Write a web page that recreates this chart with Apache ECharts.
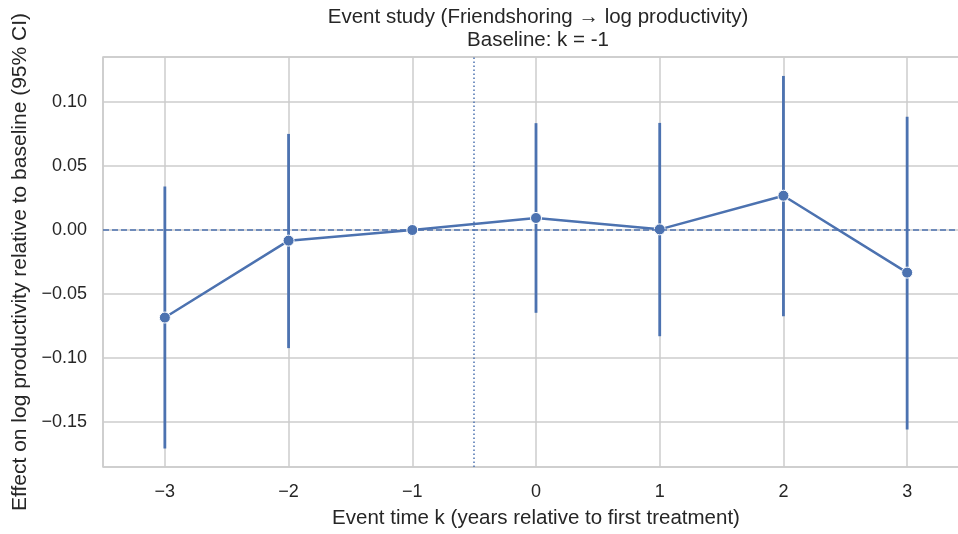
<!DOCTYPE html>
<html>
<head>
<meta charset="utf-8">
<script src="https://cdn.jsdelivr.net/npm/echarts@6/dist/echarts.min.js"></script>
<style>
  html, body { margin: 0; padding: 0; background: #fff; }
  #chart { width: 958px; height: 534px; }
</style>
</head>
<body>
<div id="chart"></div>
<script>
// event time k
var eventTimes = [-3, -2, -1, 0, 1, 2, 3];
// point estimates
var estimates = [-0.0684, -0.0083, 0.0, 0.0094, 0.0005, 0.0268, -0.0333];
// 95% CI bounds
var ciLow = [-0.1708, -0.0923, 0.0, -0.0647, -0.083, -0.0674, -0.1558];
var ciHigh = [0.034, 0.0751, 0.0, 0.0835, 0.0837, 0.1204, 0.0886];

var baselineLine = -0.5;
var blue = "#4c72b0";
var ink = "#262626";
var font = "'Liberation Sans', Arial, sans-serif";

var fmtMinus = function (v, digits) {
  var s = digits != null ? Math.abs(v).toFixed(digits) : String(Math.abs(v));
  return (v < 0 ? "\u2212" : "") + s;
};

var chart = echarts.init(document.getElementById("chart"), null, { renderer: "canvas" });

chart.setOption({
  animation: false,
  textStyle: { fontFamily: font, color: ink },
  graphic: [
    {
      type: "text",
      x: 538,
      y: 6,
      style: {
        text: "Event study (Friendshoring \u2192 log productivity)\nBaseline: k = -1",
        align: "center",
        verticalAlign: "top",
        font: "20.5px " + font,
        lineHeight: 23,
        fill: ink,
      },
    },
  ],
  grid: {
    left: 103,
    right: -11,
    top: 57,
    bottom: 67,
    outerBoundsMode: "none",
    show: true,
    borderColor: "#cccccc",
    borderWidth: 1.5,
  },
  xAxis: {
    type: "value",
    min: -3.5,
    max: 3.5,
    name: "Event time k (years relative to first treatment)",
    nameLocation: "middle",
    nameGap: 41,
    nameTextStyle: { fontSize: 20.5, color: ink, fontFamily: font },
    axisLine: { show: false },
    axisTick: { show: false },
    axisLabel: {
      fontSize: 18,
      color: ink,
      margin: 16,
      showMinLabel: false,
      showMaxLabel: false,
      formatter: function (v) { return fmtMinus(v); },
    },
    splitLine: { show: true, lineStyle: { color: "#cccccc", width: 1.5 } },
  },
  yAxis: {
    type: "value",
    min: -0.1852,
    max: 0.1352,
    name: "Effect on log productivity relative to baseline (95% CI)",
    nameLocation: "middle",
    nameGap: 72,
    nameTextStyle: { fontSize: 21, color: ink, fontFamily: font },
    axisLine: { show: false },
    axisTick: { show: false },
    axisLabel: {
      fontSize: 18,
      color: ink,
      margin: 16,
      showMinLabel: false,
      showMaxLabel: false,
      formatter: function (v) { return fmtMinus(v, 2); },
    },
    splitLine: { show: true, lineStyle: { color: "#cccccc", width: 1.5 } },
  },
  series: [
    {
      type: "custom",
      name: "CI",
      z: 3,
      data: eventTimes.map(function (k, i) { return [k, ciLow[i], ciHigh[i]]; }),
      renderItem: function (params, api) {
        var lo = api.coord([api.value(0), api.value(1)]);
        var hi = api.coord([api.value(0), api.value(2)]);
        return {
          type: "line",
          shape: { x1: lo[0], y1: lo[1], x2: hi[0], y2: hi[1] },
          style: { stroke: blue, lineWidth: 2.8 },
        };
      },
    },
    {
      type: "line",
      name: "Estimate",
      z: 4,
      data: eventTimes.map(function (k, i) { return [k, estimates[i]]; }),
      symbol: "circle",
      symbolSize: 11,
      lineStyle: { color: blue, width: 2.5 },
      itemStyle: { color: blue, borderColor: "#fff", borderWidth: 1 },
      markLine: {
        silent: true,
        symbol: "none",
        label: { show: false },
        data: [
          { yAxis: 0, lineStyle: { type: [6, 3], color: blue, width: 1.5 } },
          { xAxis: baselineLine, lineStyle: { type: [1.5, 2.5], color: blue, width: 1.5 } },
        ],
      },
    },
  ],
});
</script>
</body>
</html>
